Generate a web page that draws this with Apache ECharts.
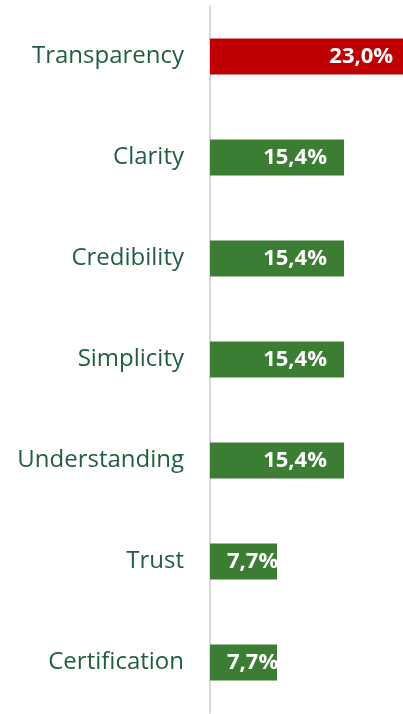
<!DOCTYPE html>
<html>
<head>
<meta charset="utf-8">
<script src="https://cdn.jsdelivr.net/npm/echarts@6/dist/echarts.min.js"></script>
<style>
  html, body { margin: 0; padding: 0; background: #fff; }
  #chart { width: 403px; height: 714px; }
</style>
</head>
<body>
<div id="chart"></div>
<script>
const categories = ["Transparency", "Clarity", "Credibility", "Simplicity", "Understanding", "Trust", "Certification"];
const shares = [23.0, 15.4, 15.4, 15.4, 15.4, 7.7, 7.7];
const highlight = "Transparency";

const chart = echarts.init(document.getElementById("chart"), null, { renderer: "canvas" });

// the widest bar runs past the right edge of the picture, as in the source;
// short bars get their label pushed from the left like Excel does
chart.setOption({
  animation: false,
  grid: { left: 210, top: 6, right: 0, height: 707, containLabel: false },
  xAxis: {
    type: "value",
    min: 0,
    max: 22.18,
    show: false
  },
  yAxis: {
    type: "category",
    data: categories,
    inverse: true,
    axisLine: { show: true, lineStyle: { color: "#d9d9d9", width: 2 } },
    axisTick: { show: false },
    axisLabel: {
      color: "#1f5f3f",
      fontFamily: "Open Sans",
      fontSize: 24,
      margin: 26
    }
  },
  series: [{
    type: "bar",
    barWidth: 36,
    clip: false,
    data: shares.map((v, i) => ({
      value: v,
      itemStyle: { color: categories[i] === highlight ? "#c00000" : "#3b7d32" },
      label: v < 10 ? { position: "insideLeft" } : {}
    })),
    label: {
      show: true,
      position: "insideRight",
      distance: 17,
      color: "#fff",
      fontFamily: "Open Sans",
      fontWeight: "bold",
      fontSize: 22,
      formatter: p => p.value.toFixed(1).replace(".", ",") + "%"
    }
  }]
});
</script>
</body>
</html>
